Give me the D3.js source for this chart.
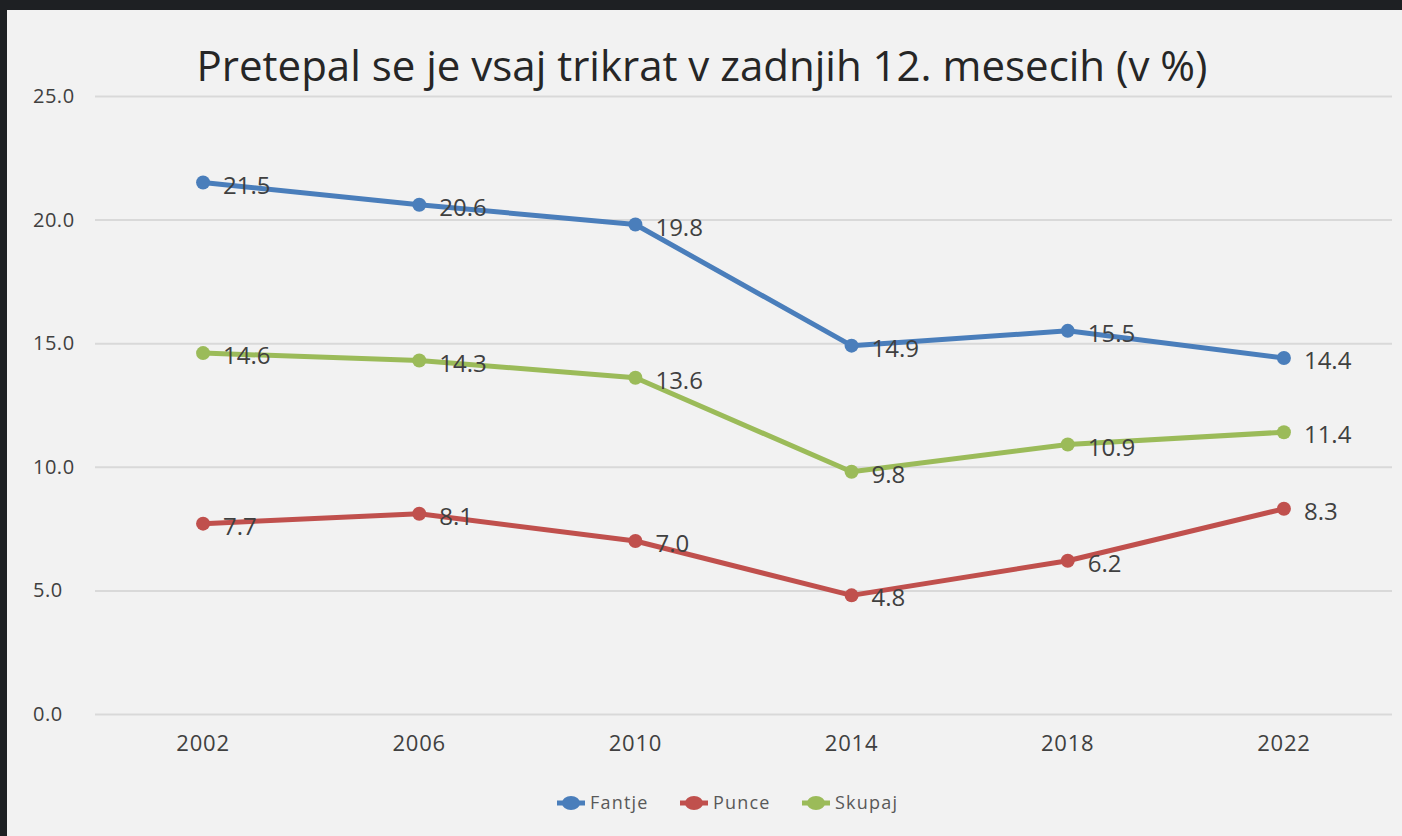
<!DOCTYPE html>
<html lang="sl">
<head>
  <meta charset="UTF-8">
  <title>Pretepal se je vsaj trikrat</title>
  <style>
    html, body { margin: 0; padding: 0; background: #1e2023; }
    svg { display: block; }
  </style>
</head>
<body>
  <div id="chart"></div>
  <script src="https://cdn.jsdelivr.net/npm/d3@7"></script>
  <script>
    const years = ['2002', '2006', '2010', '2014', '2018', '2022']
    const fantje = [21.5, 20.6, 19.8, 14.9, 15.5, 14.4]
    const punce = [7.7, 8.1, 7.0, 4.8, 6.2, 8.3]
    const skupaj = [14.6, 14.3, 13.6, 9.8, 10.9, 11.4]
    const yTicks = [0, 5, 10, 15, 20, 25]
    const seriesNames = ['Fantje', 'Punce', 'Skupaj']

    const width = 1402
    const height = 836
    const font = "'Open Sans', 'Noto Sans', sans-serif"
    const colors = { Fantje: '#4a7ebb', Punce: '#c0504d', Skupaj: '#9bbb59' }
    const series = [
      { name: 'Fantje', values: fantje },
      { name: 'Punce', values: punce },
      { name: 'Skupaj', values: skupaj }
    ]

    const svg = d3.select('#chart').append('svg').attr('width', width).attr('height', height)

    // light chart panel
    svg.append('rect').attr('x', 7).attr('y', 10).attr('width', width - 7).attr('height', height - 10).attr('fill', '#f2f2f2')

    const plot = { left: 95, right: 1392, top: 96, bottom: 714 }

    const xScale = d3.scaleBand().domain(years).range([plot.left, plot.right])
    const yScale = d3.scaleLinear().domain([0, 25]).range([plot.bottom, plot.top])
    const cx = d => xScale(d) + xScale.bandwidth() / 2

    svg.append('text')
      .attr('x', 702).attr('y', 81)
      .attr('text-anchor', 'middle')
      .attr('font-family', font).attr('font-size', 42)
      .attr('fill', '#262626')
      .text('Pretepal se je vsaj trikrat v zadnjih 12. mesecih (v %)')

    // gridlines + y labels (labels left aligned like the original)
    const yAxis = d3.axisLeft(yScale).tickValues(yTicks).tickSize(-(plot.right - plot.left)).tickPadding(0)
      .tickFormat(d3.format('.1f'))
    const gY = svg.append('g').attr('transform', `translate(${plot.left},0)`).call(yAxis)
    gY.select('.domain').remove()
    gY.selectAll('.tick line').attr('stroke', '#d9d9d9').attr('stroke-width', 2)
    gY.selectAll('.tick text')
      .attr('x', 33 - plot.left).attr('text-anchor', 'start')
      .attr('font-family', font).attr('font-size', 20).attr('letter-spacing', 0.5).attr('fill', '#404040')

    const xAxis = d3.axisBottom(xScale).tickSize(0).tickPadding(21)
    const gX = svg.append('g').attr('transform', `translate(0,${plot.bottom})`).call(xAxis)
    gX.select('.domain').remove()
    gX.selectAll('.tick text').attr('font-family', font).attr('font-size', 22).attr('letter-spacing', 0.8).attr('fill', '#404040')

    const line = d3.line().x((d, i) => cx(years[i])).y(d => yScale(d))

    series.forEach(s => {
      const g = svg.append('g')
      g.append('path').datum(s.values).attr('d', line)
        .attr('fill', 'none').attr('stroke', colors[s.name]).attr('stroke-width', 5).attr('stroke-linejoin', 'round')
      g.selectAll('circle').data(s.values).enter().append('circle')
        .attr('cx', (d, i) => cx(years[i])).attr('cy', d => yScale(d)).attr('r', 7)
        .attr('fill', colors[s.name])
      g.selectAll('text').data(s.values).enter().append('text')
        .attr('x', (d, i) => cx(years[i]) + 20).attr('y', d => yScale(d) + 11)
        .attr('font-family', font).attr('font-size', 24).attr('fill', '#404040')
        .text(d => d3.format('.1f')(d))
    })

    // legend
    const legendX = [571, 694, 816]
    const legend = svg.append('g').selectAll('g').data(seriesNames).enter().append('g')
      .attr('transform', (d, i) => `translate(${legendX[i]},803)`)
    legend.append('line').attr('x1', -14).attr('x2', 14).attr('stroke', d => colors[d]).attr('stroke-width', 5)
    legend.append('ellipse').attr('rx', 9).attr('ry', 7).attr('fill', d => colors[d])
    legend.append('text').attr('x', 19).attr('y', 6)
      .attr('font-family', font).attr('font-size', 18).attr('letter-spacing', 1.2).attr('fill', '#595959')
      .text(d => d)
  </script>
</body>
</html>
